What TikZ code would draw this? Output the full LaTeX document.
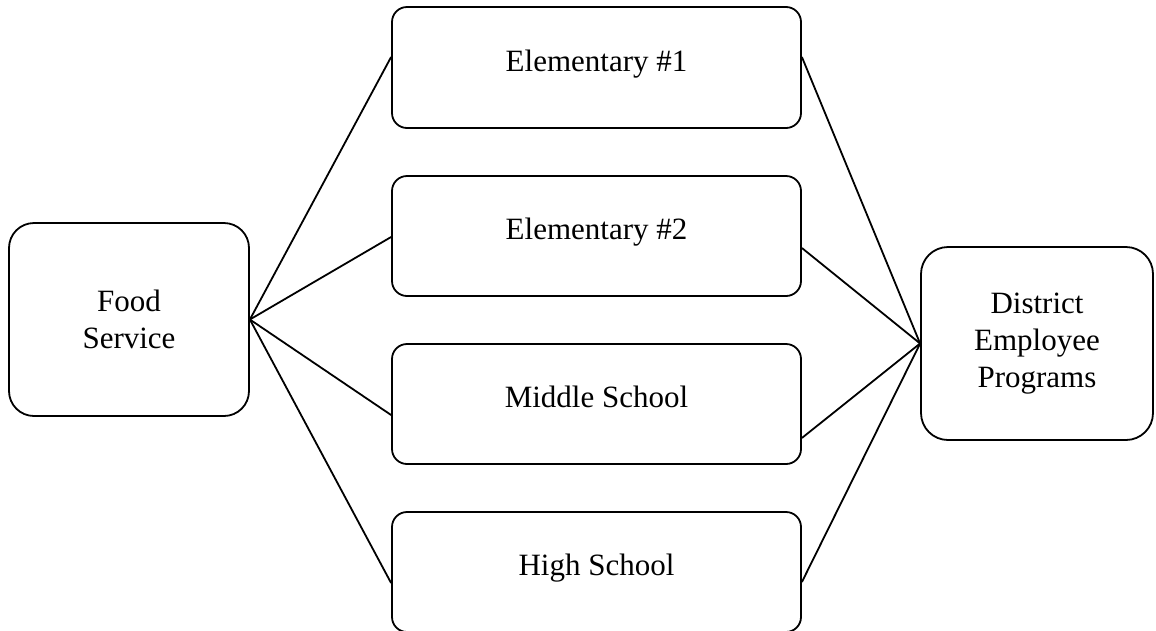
\documentclass[tikz,border=0pt]{standalone}
\usepackage{fontspec}
\setmainfont{Liberation Serif}
\begin{document}
\begin{tikzpicture}[x=1pt,y=-1pt,
  every node/.style={font=\fontsize{31}{37}\selectfont},
  box/.style={draw, line width=1.8pt, align=center, inner sep=0pt},
  endbox/.style={box, minimum width=240pt, minimum height=193pt, rounded corners=25pt},
  school/.style={box, minimum width=409pt, minimum height=120pt, rounded corners=15pt,
                 text height=21pt, text depth=14pt},
  link/.style={line width=1.8pt}]
\useasboundingbox (0,0) rectangle (1156,630);

% outer boxes
\node[endbox] (fs) at (129,319.5) {Food\\Service};
\node[endbox, minimum width=232pt, rounded corners=27pt] (dep) at (1037,343.5)
  {\fontsize{31}{36.5}\selectfont District\\Employee\\Programs};

% schools
\node[school, minimum height=121pt] (e1) at (596.5,67.5) {Elementary \#1};
\node[school] (e2) at (596.5,236) {Elementary \#2};
\node[school] (ms) at (596.5,404) {Middle School};
\node[school] (hs) at (596.5,572) {High School};

% links from food service
\draw[link] (fs.east) -- ([yshift=10.5pt]e1.west);
\draw[link] (fs.east) -- ([yshift=-1pt]e2.west);
\draw[link] (fs.east) -- ([yshift=-11pt]ms.west);
\draw[link] (fs.east) -- ([yshift=-11pt]hs.west);

% links to district programs
\draw[link] ([yshift=10.5pt]e1.east) -- (dep.west);
\draw[link] ([yshift=-12pt]e2.east) -- (dep.west);
\draw[link] ([yshift=-34pt]ms.east) -- (dep.west);
\draw[link] ([yshift=-10pt]hs.east) -- (dep.west);
\end{tikzpicture}
\end{document}
